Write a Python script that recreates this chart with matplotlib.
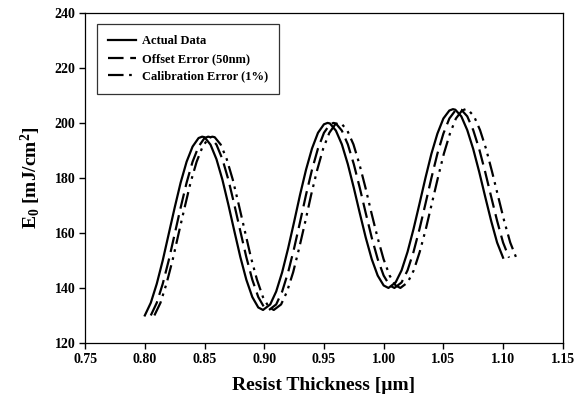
import matplotlib
matplotlib.use("Agg")
import matplotlib.pyplot as plt

# Espesor de resina (um) y energia E0 (mJ/cm2)
thickness_actual = [0.800, 0.805, 0.810, 0.815, 0.820, 0.825, 0.830, 0.835, 0.840, 0.845,
                    0.848, 0.850, 0.855, 0.860, 0.865, 0.870, 0.875, 0.880, 0.885, 0.890,
                    0.895, 0.899, 0.905, 0.910, 0.915, 0.920, 0.925, 0.930, 0.935, 0.940,
                    0.945, 0.950, 0.953, 0.955, 0.960, 0.965, 0.970, 0.975, 0.980, 0.985,
                    0.990, 0.995, 1.000, 1.004, 1.010, 1.015, 1.020, 1.025, 1.030, 1.035,
                    1.040, 1.045, 1.050, 1.055, 1.058, 1.060, 1.065, 1.070, 1.075, 1.080,
                    1.085, 1.090, 1.095, 1.100]
thickness_offset = [0.805, 0.810, 0.815, 0.820, 0.825, 0.830, 0.835, 0.840, 0.845, 0.850,
                    0.853, 0.855, 0.860, 0.865, 0.870, 0.875, 0.880, 0.885, 0.890, 0.895,
                    0.900, 0.904, 0.910, 0.915, 0.920, 0.925, 0.930, 0.935, 0.940, 0.945,
                    0.950, 0.955, 0.958, 0.960, 0.965, 0.970, 0.975, 0.980, 0.985, 0.990,
                    0.995, 1.000, 1.005, 1.009, 1.015, 1.020, 1.025, 1.030, 1.035, 1.040,
                    1.045, 1.050, 1.055, 1.060, 1.063, 1.065, 1.070, 1.075, 1.080, 1.085,
                    1.090, 1.095, 1.100, 1.105]
thickness_calib = [0.8080, 0.8131, 0.8181, 0.8232, 0.8282, 0.8333, 0.8383, 0.8434, 0.8484, 0.8535,
                   0.8565, 0.8585, 0.8636, 0.8686, 0.8737, 0.8787, 0.8838, 0.8888, 0.8939, 0.8989,
                   0.9040, 0.9080, 0.9141, 0.9191, 0.9242, 0.9292, 0.9343, 0.9393, 0.9444, 0.9494,
                   0.9545, 0.9595, 0.9625, 0.9646, 0.9696, 0.9747, 0.9797, 0.9848, 0.9898, 0.9949,
                   0.9999, 1.0050, 1.0100, 1.0140, 1.0201, 1.0252, 1.0302, 1.0353, 1.0403, 1.0454,
                   1.0504, 1.0555, 1.0605, 1.0656, 1.0686, 1.0706, 1.0757, 1.0807, 1.0858, 1.0908,
                   1.0959, 1.1009, 1.1060, 1.1110]
e0 = [130.0, 134.6, 141.5, 150.0, 159.6, 169.2, 178.3, 185.9, 191.4, 194.5,
      195.0, 194.8, 192.1, 186.8, 179.3, 170.2, 160.6, 151.2, 143.0, 136.7,
      132.9, 132.0, 134.0, 138.7, 145.7, 154.4, 164.0, 173.9, 183.0, 190.7,
      196.4, 199.5, 200.0, 199.8, 197.2, 192.2, 185.0, 176.4, 167.2, 158.3,
      150.5, 144.5, 140.9, 140.0, 142.0, 146.4, 153.1, 161.4, 170.6, 180.0,
      188.8, 196.1, 201.6, 204.5, 205.0, 204.8, 202.4, 197.4, 190.5, 182.2,
      173.2, 164.4, 156.5, 151.0]

labels = ["Actual Data", "Offset Error (50nm)", "Calibration Error (1%)"]
x_ticks = [0.75, 0.80, 0.85, 0.90, 0.95, 1.00, 1.05, 1.10, 1.15]
y_ticks = [120, 140, 160, 180, 200, 220, 240]

plt.rcParams['font.family'] = ['Liberation Serif', 'DejaVu Serif']
plt.rcParams['font.weight'] = 'bold'
plt.rcParams['mathtext.fontset'] = 'custom'
plt.rcParams['mathtext.rm'] = 'Liberation Serif:bold'
plt.rcParams['mathtext.bf'] = 'Liberation Serif:bold'
plt.rcParams['mathtext.it'] = 'Liberation Serif:bold'
plt.rcParams['mathtext.default'] = 'bf'

fig = plt.figure(figsize=(5.79, 4.03), dpi=100)
ax = fig.add_axes([0.147, 0.149, 0.825, 0.819])

ax.plot(thickness_actual, e0, color='black', linewidth=1.6, linestyle='-', label=labels[0])
ax.plot(thickness_offset, e0, color='black', linewidth=1.6, linestyle=(0, (7, 3)), label=labels[1])
ax.plot(thickness_calib, e0, color='black', linewidth=1.6,
        linestyle=(0, (7, 2.5, 1.2, 2.5, 1.2, 2.5)), label=labels[2])

ax.set_xlim(0.75, 1.15)
ax.set_ylim(120, 240)
ax.set_xticks(x_ticks)
ax.set_xticklabels(["%.2f" % v for v in x_ticks])
ax.set_yticks(y_ticks)
ax.tick_params(direction='out', length=4, width=1, labelsize=10, pad=3)
for s in ax.spines.values():
    s.set_linewidth(0.9)

ax.set_xlabel('Resist Thickness [\u00b5m]', fontsize=14, fontweight='bold', labelpad=8)
ax.set_ylabel(r'E$_0$ [mJ/cm$^2$]', fontsize=14, fontweight='bold', labelpad=8)

leg = ax.legend(loc='upper left', bbox_to_anchor=(0.012, 0.985), fontsize=9,
                frameon=True, fancybox=False, edgecolor='black', handlelength=2.2,
                borderpad=0.9, labelspacing=0.45, handletextpad=0.5)
leg.get_frame().set_linewidth(0.9)

fig.savefig("out.png", dpi=100)
